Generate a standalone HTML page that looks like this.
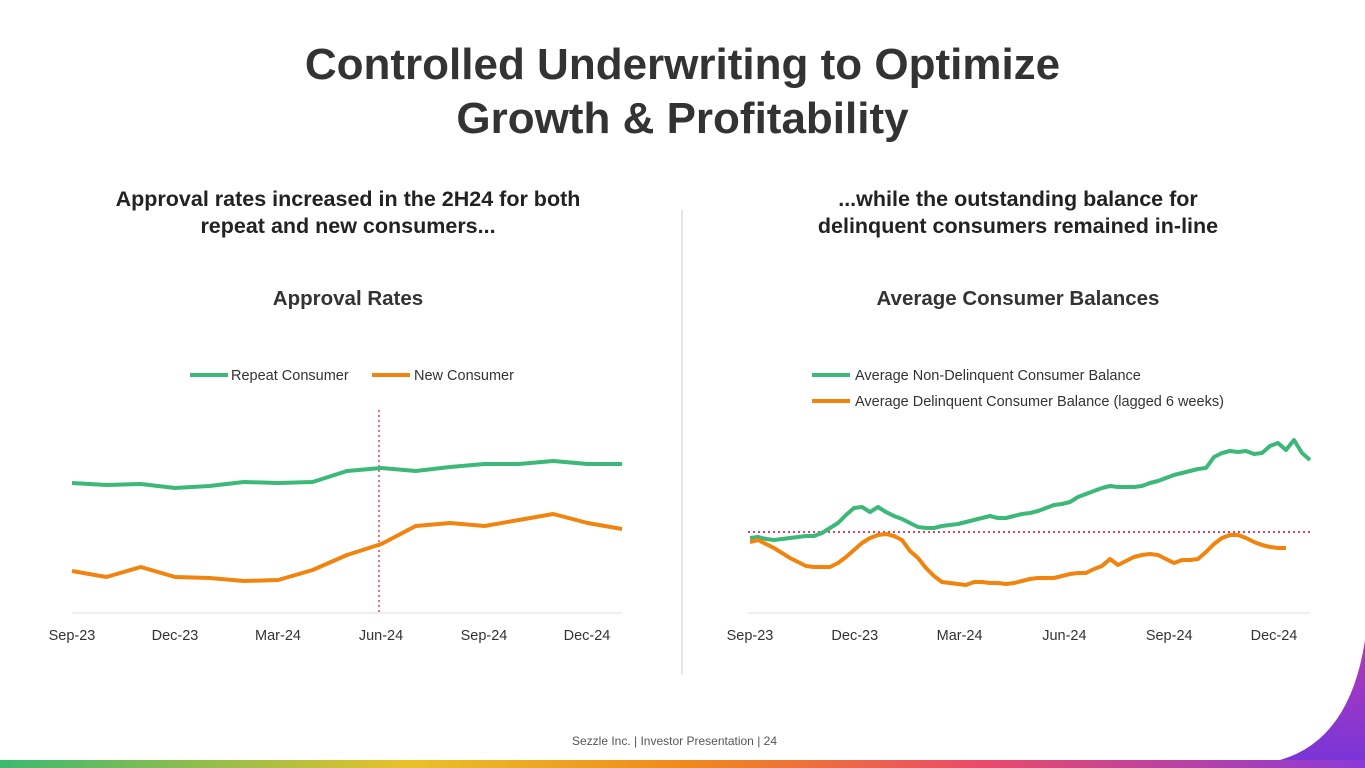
<!DOCTYPE html>
<html><head><meta charset="utf-8"><style>
body{margin:0;width:1365px;height:768px;overflow:hidden;background:#fff;font-family:"Liberation Sans",sans-serif;position:relative}
.t{position:absolute;left:0;width:1365px;text-align:center;color:#333;font-weight:bold}
</style></head><body>
<div class="t" style="top:38px;font-size:44px;line-height:54px">Controlled Underwriting to Optimize<br>Growth &amp; Profitability</div>
<div class="t" style="left:48px;width:600px;top:186px;font-size:21.5px;line-height:27px;color:#222">Approval rates increased in the 2H24 for both<br>repeat and new consumers...</div>
<div class="t" style="left:718px;width:600px;top:186px;font-size:21.5px;line-height:27px;color:#222">...while the outstanding balance for<br>delinquent consumers remained in-line</div>
<svg width="1365" height="768" style="position:absolute;left:0;top:0">
<defs><linearGradient id="g" x1="0" x2="1"><stop offset="0" stop-color="#3cb96f"/><stop offset="0.3" stop-color="#e8c12a"/><stop offset="0.5" stop-color="#f08a1c"/><stop offset="0.72" stop-color="#ea4a6a"/><stop offset="1" stop-color="#8a3ad8"/></linearGradient>
<linearGradient id="c" x1="0" y1="0" x2="0" y2="1"><stop offset="0" stop-color="#b03ab8"/><stop offset="1" stop-color="#7a35d8"/></linearGradient></defs>
<rect x="0" y="760" width="1365" height="8" fill="url(#g)"/>
<path d="M1365 640 Q1350 740 1280 760 L1365 760 Z" fill="url(#c)"/>
<line x1="682" y1="210" x2="682" y2="675" stroke="#ddd" stroke-width="1.5"/>
<text x="348" y="305" text-anchor="middle" font-size="20.5" font-weight="bold" fill="#333">Approval Rates</text>
<text x="1018" y="305" text-anchor="middle" font-size="20.5" font-weight="bold" fill="#333">Average Consumer Balances</text>
<g font-size="14.5" fill="#333">
<line x1="190" y1="375" x2="228" y2="375" stroke="#3cb878" stroke-width="4"/>
<text x="231" y="380">Repeat Consumer</text>
<line x1="372" y1="375" x2="410" y2="375" stroke="#f0840f" stroke-width="4"/>
<text x="414" y="380">New Consumer</text>
<line x1="812" y1="375" x2="850" y2="375" stroke="#3cb878" stroke-width="4"/>
<text x="855" y="380">Average Non-Delinquent Consumer Balance</text>
<line x1="812" y1="401" x2="850" y2="401" stroke="#f0840f" stroke-width="4"/>
<text x="855" y="406">Average Delinquent Consumer Balance (lagged 6 weeks)</text>
</g>
<line x1="72" y1="613" x2="622" y2="613" stroke="#ddd"/>
<line x1="748" y1="613" x2="1310" y2="613" stroke="#ddd"/>
<line x1="379" y1="410" x2="379" y2="613" stroke="#e04060" stroke-width="1.5" stroke-dasharray="2,3"/>
<line x1="748" y1="532" x2="1310" y2="532" stroke="#e04060" stroke-width="2" stroke-dasharray="2,3"/>
<g id="lc"></g><g id="rc"></g>
</svg>
<div class="t" style="top:734px;font-size:12px;font-weight:normal;color:#555;left:-8px">Sezzle Inc. | Investor Presentation | 24</div>
<script>
const leftTicks=["Sep-23","Dec-23","Mar-24","Jun-24","Sep-24","Dec-24"];
const repeatVals=[130,128,129,125,127,131,130,131,142,145,142,146,149,149,152,149,149];
const newVals=[42,36,46,36,35,32,33,43,58,69,87,90,87,93,99,90,84];
const rightTicks=["Sep-23","Dec-23","Mar-24","Jun-24","Sep-24","Dec-24"];
const nonDelVals=[75,76,74,73,74,75,76,77,77,80,85,90,98,105,106,101,106,101,97,94,90,86,85,85,87,88,89,91,93,95,97,95,95,97,99,100,102,105,108,109,111,116,119,122,125,127,126,126,126,127,130,132,135,138,140,142,144,145,156,160,162,161,162,159,160,167,170,163,173,160,153];
const delVals=[71,73,69,65,60,55,51,47,46,46,46,50,56,63,70,75,78,79,77,73,62,55,45,37,31,30,29,28,31,31,30,30,29,30,32,34,35,35,35,37,39,40,40,44,47,54,48,52,56,58,59,58,54,50,53,53,54,61,69,75,78,78,75,71,68,66,65,65];
const NS="http://www.w3.org/2000/svg";
function yS(v){return 613-v;}
function draw(g,vals,x0,dx,color,name){
 const p=document.createElementNS(NS,"polyline");
 p.setAttribute("points",vals.map((v,i)=>(x0+i*dx)+","+yS(v)).join(" "));
 p.setAttribute("fill","none");p.setAttribute("stroke",color);p.setAttribute("stroke-width","4");p.setAttribute("stroke-linejoin","round");
 
 
 g.appendChild(p);}
function ticks(g,labels,x0,dx,name){labels.forEach((l,i)=>{const t=document.createElementNS(NS,"text");
 t.setAttribute("x",x0+i*dx);t.setAttribute("y",640);t.setAttribute("text-anchor","middle");t.setAttribute("font-size","14.5");t.setAttribute("fill","#333");t.textContent=l;
 
 
 g.appendChild(t);});}
const lc=document.getElementById("lc"),rc=document.getElementById("rc");
draw(lc,repeatVals,72,550/16,"#3cb878","repeat-consumer-line");
draw(lc,newVals,72,550/16,"#f0840f","new-consumer-line");
ticks(lc,leftTicks,72,103,"left-x-tick");
draw(rc,nonDelVals,750,8,"#3cb878","nondelinquent-balance-line");
draw(rc,delVals,750,8,"#f0840f","delinquent-balance-line");
ticks(rc,rightTicks,750,104.8,"right-x-tick");
</script>
</body></html>
